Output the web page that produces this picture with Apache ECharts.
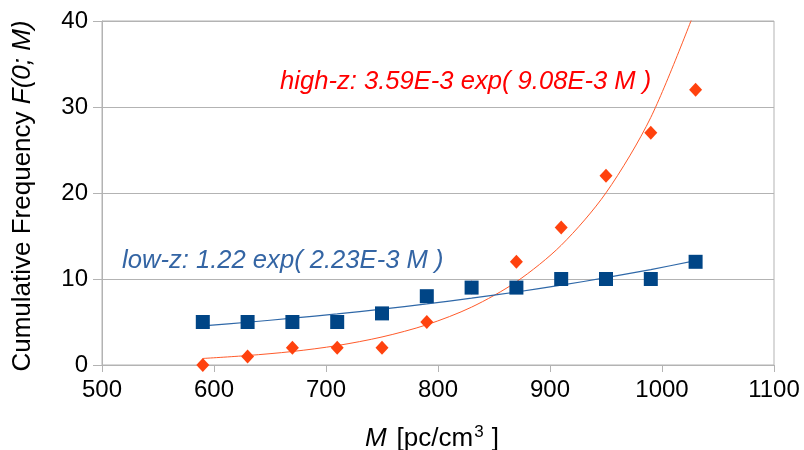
<!DOCTYPE html>
<html><head><meta charset="utf-8">
<script src="https://cdn.jsdelivr.net/npm/echarts@6/dist/echarts.min.js"></script>
<style>html,body{margin:0;padding:0;background:#fff}#c{width:804px;height:450px}</style>
</head><body><div id="c"></div>
<script>
const M = [590, 630, 670, 710, 750, 790, 830, 870, 910, 950, 990, 1030];
const lowZ = [5, 5, 5, 5, 6, 8, 9, 9, 10, 10, 10, 12];
const highZ = [0, 1, 2, 2, 2, 5, 9, 12, 16, 22, 27, 32];
const lowFit = [4.55, 4.97, 5.44, 5.94, 6.50, 7.10, 7.77, 8.49, 9.28, 10.15, 11.10, 12.13];
const highFit = [0.76, 1.10, 1.57, 2.26, 3.26, 4.68, 6.73, 9.68, 13.92, 20.02, 28.79, 41.4];
const xTicks = [500, 600, 700, 800, 900, 1000, 1100];
const yTicks = [0, 10, 20, 30, 40];
const lowLabel = 'low-z: 1.22 exp( 2.23E-3 M )';
const highLabel = 'high-z: 3.59E-3 exp( 9.08E-3 M )';

const pair = (xs, ys) => xs.map((x, i) => [x, ys[i]]);
const FONT = 'Liberation Sans';
const chart = echarts.init(document.getElementById('c'));
chart.setOption({
  animation: false,
  backgroundColor: '#fff',
  textStyle: { fontFamily: FONT },
  grid: { left: 102, right: 30, top: 21, bottom: 85, show: true, borderColor: '#b3b3b3', borderWidth: 1,
          containLabel: false, outerBoundsMode: 'none' },
  xAxis: {
    type: 'value', min: xTicks[0], max: xTicks[xTicks.length - 1], interval: 100,
    axisLine: { lineStyle: { color: '#b3b3b3' } },
    axisTick: { show: true, length: 7, lineStyle: { color: '#b3b3b3' } },
    splitLine: { show: false },
    axisLabel: { color: '#000', fontSize: 24, margin: 13, fontFamily: FONT, formatter: v => String(v) },
    name: '{i|M}{n|[pc/cm}{s|3}{n| ]}', nameLocation: 'middle', nameGap: 59,
    nameTextStyle: {
      padding: [0, 12, 0, 0],
      rich: {
        i: { fontStyle: 'italic', fontSize: 26, color: '#000', fontFamily: FONT, padding: [0, 10, 0, 0] },
        n: { fontSize: 26, color: '#000', fontFamily: FONT },
        s: { fontSize: 17, color: '#000', fontFamily: FONT, verticalAlign: 'top', padding: [0, 1, 12, 1] }
      }
    }
  },
  yAxis: {
    type: 'value', min: yTicks[0], max: yTicks[yTicks.length - 1], interval: 10,
    axisLine: { show: true, lineStyle: { color: '#b3b3b3' } },
    axisTick: { show: true, length: 9, lineStyle: { color: '#b3b3b3' } },
    splitLine: { show: true, lineStyle: { color: '#b3b3b3' } },
    axisLabel: { color: '#000', fontSize: 24, margin: 14, fontFamily: FONT, formatter: v => String(v) },
    name: '{n|Cumulative Frequency }{i|F(0; M)}', nameLocation: 'middle', nameGap: 66,
    nameTextStyle: {
      padding: [0, 6, 0, 0],
      rich: {
        i: { fontStyle: 'italic', fontSize: 26, color: '#000', fontFamily: FONT },
        n: { fontSize: 26, color: '#000', fontFamily: FONT }
      }
    }
  },
  series: [
    { type: 'line', data: pair(M, highFit), smooth: 0.3, showSymbol: false, clip: true,
      lineStyle: { color: '#ff5a2a', width: 1 }, z: 2 },
    { type: 'line', data: pair(M, lowFit), smooth: 0.3, showSymbol: false,
      lineStyle: { color: '#2f68a8', width: 1.2 }, z: 2 },
    { type: 'scatter', data: pair(M, highZ), symbol: 'diamond', symbolSize: [13, 14],
      itemStyle: { color: '#ff420e', opacity: 1 }, z: 3 },
    { type: 'scatter', data: pair(M, lowZ), symbol: 'rect', symbolSize: 14,
      itemStyle: { color: '#004586', opacity: 1 }, z: 4 }
  ],
  graphic: [
    { type: 'text', left: 280, top: 69, style: { text: highLabel, fill: '#ff0000', font: 'italic 25.6px "Liberation Sans"' } },
    { type: 'text', left: 122, top: 248, style: { text: lowLabel, fill: '#3465a4', font: 'italic 25.6px "Liberation Sans"' } }
  ]
});
</script></body></html>
